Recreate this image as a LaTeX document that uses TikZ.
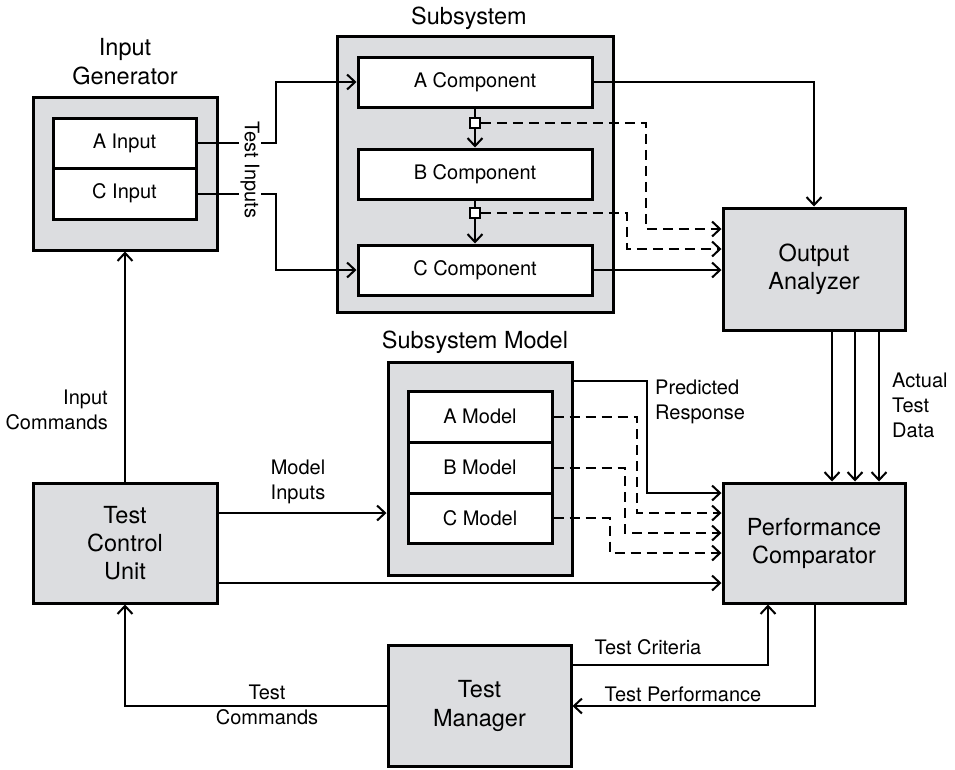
\documentclass[tikz,border=0pt]{standalone}
\usepackage{fontspec}
\setmainfont{TeX Gyre Heros}
\usetikzlibrary{arrows.meta}
\definecolor{boxgray}{RGB}{220,221,224}
\begin{document}
\begin{tikzpicture}[x=1pt,y=-1pt,
  font=\fontsize{20}{25}\selectfont,
  outerbox/.style={draw,line width=3pt,fill=boxgray,inner sep=0pt,align=center,font=\fontsize{23.5}{28}\selectfont},
  innerbox/.style={draw,line width=3pt,fill=white,inner sep=0pt,align=center},
  conn/.style={line width=2pt},
  arr/.style={conn,-{Straight Barb[length=8pt,width=15pt,line width=2pt]}},
  darr/.style={arr,dash pattern=on 10pt off 6pt},
  lbl/.style={inner sep=1pt,align=center},
  ttl/.style={inner sep=1pt,align=center,font=\fontsize{23.5}{29}\selectfont},
  sq/.style={draw,line width=1.8pt,fill=white,minimum size=10pt,inner sep=0pt}]
\useasboundingbox (0,0) rectangle (955,769);

% Input generator
\node[outerbox,minimum width=184pt,minimum height=153pt] (ig) at (125,173.5) {};
\node[innerbox,minimum width=143pt,minimum height=50pt] (ain) at (124.5,143) {A Input};
\node[innerbox,minimum width=143pt,minimum height=51pt] (cin) at (124.5,193.5) {C Input};
\node[ttl] (igt) at (125,62) {Input\\Generator};

% Subsystem
\node[outerbox,minimum width=276pt,minimum height=276pt] (ss) at (475,174) {};
\node[innerbox,minimum width=234pt,minimum height=50pt] (acomp) at (475,82) {A Component};
\node[innerbox,minimum width=234pt,minimum height=50pt] (bcomp) at (475,174) {B Component};
\node[innerbox,minimum width=234pt,minimum height=50pt] (ccomp) at (475,270) {C Component};
\node[ttl] (sst) at (469,18) {Subsystem};
\node[sq] (s1) at (475,123) {};
\node[sq] (s2) at (475,213) {};

% Output analyzer
\node[outerbox,minimum width=182pt,minimum height=122pt] (oa) at (814,269) {Output\\Analyzer};

% Subsystem model
\node[outerbox,minimum width=184pt,minimum height=213pt] (sm) at (480,468.5) {};
\node[innerbox,minimum width=144pt,minimum height=51pt] (amod) at (480,416.5) {A Model};
\node[innerbox,minimum width=144pt,minimum height=51pt] (bmod) at (480,467.5) {B Model};
\node[innerbox,minimum width=144pt,minimum height=50pt] (cmod) at (480,518) {C Model};
\node[ttl] (smt) at (475,342) {Subsystem Model};

% Test control unit, performance comparator, test manager
\node[outerbox,minimum width=184pt,minimum height=120pt] (tcu) at (125,543) {Test\\Control\\Unit};
\node[outerbox,minimum width=182pt,minimum height=120pt] (pc) at (814,543) {Performance\\Comparator};
\node[outerbox,minimum width=183pt,minimum height=121pt,font=\fontsize{23.5}{29}\selectfont] (tm) at (479.5,706) {Test\\Manager};

% helper coordinates
\coordinate (tix) at (276,0);
\coordinate (d1) at (646,229);
\coordinate (d2) at (627,249);
\coordinate (prc) at (647,381);
\coordinate (pry) at (0,493);
\coordinate (m1) at (637,513);
\coordinate (m2) at (625,533);
\coordinate (m3) at (610,553);
\coordinate (mi) at (0,513);
\coordinate (tp) at (0,583);
\coordinate (a1) at (832,0);
\coordinate (a2) at (855,0);
\coordinate (a3) at (879,0);
\coordinate (tc) at (768,665);
\coordinate (tpf) at (815,706);

% Test inputs
\draw[arr] (ain.east) -- (ain.east -| tix) |- (acomp.west);
\draw[arr] (cin.east) -- (cin.east -| tix) |- (ccomp.west);
\node[lbl,rotate=-90,fill=white,inner sep=2pt] (til) at (250,170) {Test Inputs};

% Subsystem internal
\draw[conn] (acomp.south) -- (s1.north);
\draw[arr] (s1.south) -- (bcomp.north);
\draw[conn] (bcomp.south) -- (s2.north);
\draw[arr] (s2.south) -- (ccomp.north);
\draw[darr] (s1.east) -| (d1) -- (d1 -| oa.west);
\draw[darr] (s2.east) -| (d2) -- (d2 -| oa.west);
\draw[arr] (acomp.east) -| (oa.north);
\draw[arr] (ccomp.east) -- (ccomp.east -| oa.west);

% Output analyzer to comparator
\draw[arr] (a1 |- oa.south) -- (a1 |- pc.north);
\draw[arr] (a2 |- oa.south) -- (a2 |- pc.north);
\draw[arr] (a3 |- oa.south) -- (a3 |- pc.north);
\node[lbl,anchor=west,align=left] (atd) at (891,405) {Actual\\Test\\Data};

% Subsystem model outputs
\draw[arr] (sm.east |- prc) -- (prc) |- (pry -| pc.west);
\node[lbl,anchor=west,align=left] (prl) at (654,402) {Predicted\\Response};
\draw[darr] (amod.east) -| (m1) -- (m1 -| pc.west);
\draw[darr] (bmod.east) -| (m2) -- (m2 -| pc.west);
\draw[darr] (cmod.east) -| (m3) -- (m3 -| pc.west);

% Test control unit outputs
\draw[arr] (tcu.north) -- (ig.south);
\node[lbl,anchor=east,align=right] (icl) at (109,410) {Input\\Commands};
\draw[arr] (tcu.east |- mi) -- (sm.west |- mi);
\node[lbl] (mil) at (298,482) {Model\\Inputs};
\draw[arr] (tcu.east |- tp) -- (pc.west |- tp);

% Test manager
\draw[arr] (tm.east |- tc) -| (pc.south -| tc);
\node[lbl] (tcl) at (648,647) {Test Criteria};
\draw[arr] (pc.south -| tpf) |- (tm.east);
\node[lbl] (tpl) at (683,694) {Test Performance};
\draw[arr] (tm.west) -| (tcu.south);
\node[lbl] (tcml) at (267,705) {Test\\Commands};
\end{tikzpicture}
\end{document}
